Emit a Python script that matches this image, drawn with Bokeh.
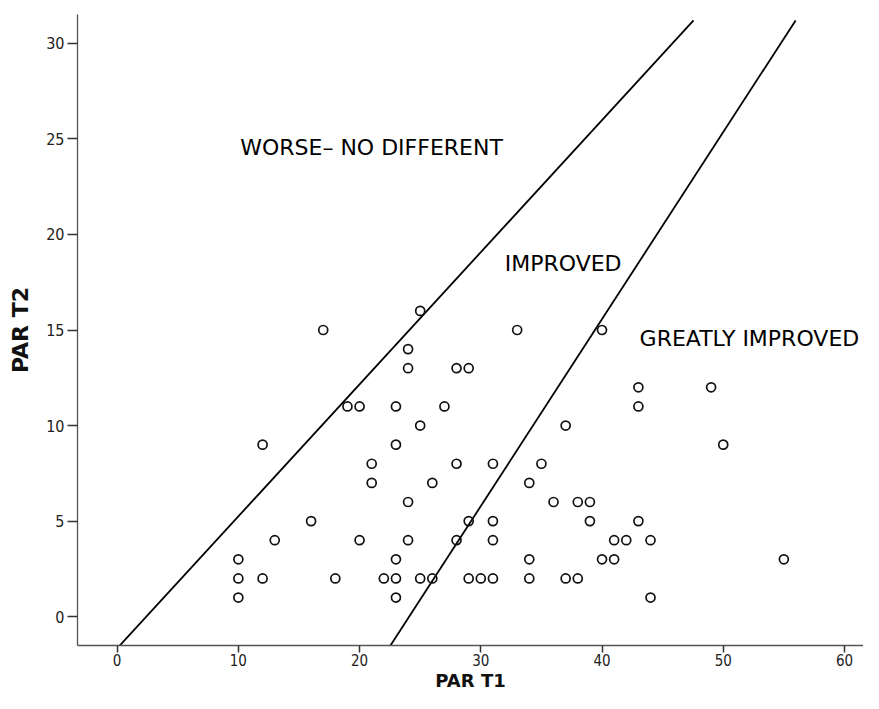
from bokeh.plotting import figure
from bokeh.models import ColumnDataSource, Range1d, FixedTicker
from bokeh.core.properties import value
from bokeh.embed import file_html
from bokeh.resources import INLINE

# ---- data ----
par_t1 = [10, 10, 10, 12, 12, 13, 16, 17, 18, 19, 20, 20, 21, 21, 22,
          23, 23, 23, 23, 23, 24, 24, 24, 24, 25, 25, 25, 26, 26, 27,
          28, 28, 28, 29, 29, 29, 30, 31, 31, 31, 31, 33, 34, 34, 34,
          35, 36, 37, 37, 38, 38, 39, 39, 40, 40, 41, 41, 42, 43, 43,
          43, 44, 44, 49, 50, 55]
par_t2 = [3, 2, 1, 9, 2, 4, 5, 15, 2, 11, 11, 4, 8, 7, 2,
          11, 9, 3, 2, 1, 14, 13, 6, 4, 16, 10, 2, 7, 2, 11,
          13, 8, 4, 13, 5, 2, 2, 8, 5, 4, 2, 15, 7, 3, 2,
          8, 6, 10, 2, 6, 2, 6, 5, 15, 3, 4, 3, 4, 12, 11,
          5, 4, 1, 12, 9, 3]

# boundary lines (end points in data units)
line1_x = [-0.2, 47.55]
line1_y = [-1.8, 31.2]
line2_x = [22.25, 55.97]
line2_y = [-1.8, 31.2]

# region labels
region_text = ["WORSE\u2013 NO DIFFERENT", "IMPROVED", "GREATLY IMPROVED"]
region_x = [10.15, 31.97, 43.1]
region_y = [24.57, 18.46, 14.54]

x_ticks = [0, 10, 20, 30, 40, 50, 60]
y_ticks = [0, 5, 10, 15, 20, 25, 30]

# ---- figure ----
p = figure(width=863, height=693, output_backend="svg", toolbar_location=None,
           x_range=Range1d(-3.27, 61.57), y_range=Range1d(-1.51, 31.51),
           min_border_left=77, min_border_top=14, min_border_right=0,
           min_border_bottom=46)
p.outline_line_color = None
p.background_fill_color = "white"
p.border_fill_color = "white"
p.xgrid.visible = False
p.ygrid.visible = False

p.line(line1_x, line1_y, line_color="#000000", line_width=1.8)
p.line(line2_x, line2_y, line_color="#000000", line_width=1.8)

src = ColumnDataSource(dict(x=par_t1, y=par_t2))
p.scatter("x", "y", source=src, marker="circle", size=9,
          fill_color=None, line_color="#111111", line_width=1.7)

lsrc = ColumnDataSource(dict(x=region_x, y=region_y, t=region_text))
p.text("x", "y", text="t", source=lsrc, text_font=value("DejaVu Sans"),
       text_font_size="22px", text_color="#000000",
       text_align="left", text_baseline="alphabetic")

for ax, ticks in ((p.xaxis[0], x_ticks), (p.yaxis[0], y_ticks)):
    ax.ticker = FixedTicker(ticks=ticks)
    ax.axis_line_color = "#555555"
    ax.axis_line_width = 1.3
    ax.major_tick_line_color = "#333333"
    ax.major_tick_line_width = 1.5
    ax.major_tick_in = 0
    ax.minor_tick_line_color = None
    ax.major_label_text_font = "DejaVu Sans Condensed"
    ax.major_label_text_color = "#222222"
    ax.axis_label_text_font = "DejaVu Sans"
    ax.axis_label_text_font_style = "bold"
    ax.axis_label_text_color = "#111111"

p.xaxis.axis_label = "PAR T1"
p.xaxis.axis_label_text_font_size = "18px"
p.xaxis.major_label_text_font_size = "15px"
p.xaxis.major_tick_out = 7
p.xaxis.major_label_standoff = 1
p.xaxis.axis_label_standoff = 1

p.yaxis.axis_label = "PAR T2"
p.yaxis.axis_label_text_font_size = "22px"
p.yaxis.major_label_text_font_size = "16px"
p.yaxis.major_tick_out = 10
p.yaxis.major_label_standoff = 3
p.yaxis.axis_label_standoff = 10

open("out.html", "w").write(file_html(p, INLINE))
